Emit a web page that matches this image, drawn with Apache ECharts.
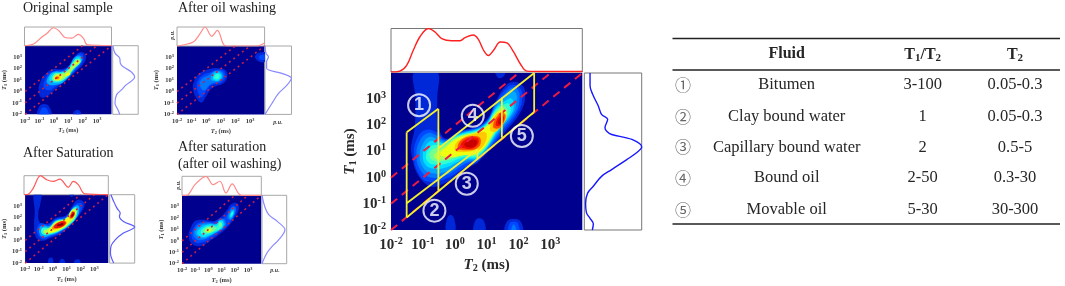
<!DOCTYPE html>
<html><head><meta charset="utf-8">
<style>html,body{margin:0;padding:0;background:#fff}#c{width:1065px;height:286px}#c canvas{filter:blur(.35px)}</style>
<script src="https://cdn.jsdelivr.net/npm/echarts@6/dist/echarts.min.js"></script>
</head><body><div id="c"></div>
<script>
// ---------- table ----------
var fluidMarks = ['①','②','③','④','⑤'];
var fluids = ['Bitumen','Clay bound water','Capillary bound water','Bound oil','Movable oil'];
var ratioT1T2 = ['3-100','1','2','2-50','5-30'];
var rangeT2 = ['0.05-0.3','0.05-0.3','0.5-5','0.3-30','30-300'];
// ---------- shared reading lines ----------
var ratioLines = [100,10,1];
var axisExponentTicks = [-2,-1,0,1,2,3];
// ---------- filled contours: [level, [[log10 T2, log10 T1], ...]] ----------
var contourMain = [
 [1,[[-.88,-.27],[-1.35,.82],[-1.25,2],[-1.23,3],[-1.25,4.1],[-.57,4.1],[-.55,3],[-.53,2.1],[-.3,1.5],[.1,1.75],[.9,2.1],[1.32,3],[1.55,3.45],[1.79,3.66],[2.1,3.54],[2.21,3.19],[2.08,2.55],[1.58,1.75],[.75,.62],[.43,.38],[-.3,-.2]]],
 [1,[[-.25,-2.1],[-.25,-1.6],[-.13,-1.42],[-.01,-1.6],[-.01,-2.1]]],
 [1,[[.62,-2.1],[.62,-1.7],[.77,-1.55],[.93,-1.7],[.93,-2.1]]],
 [1,[[1.6,-2.1],[1.62,-1.7],[1.85,-1.58],[2.08,-1.7],[2.1,-2.1]]],
 [1,[[1.25,4.15],[1.32,3.88],[1.42,3.8],[1.55,3.9],[1.58,4.15]]],
 [2,[[1.7,-2.1],[1.72,-1.75],[1.85,-1.68],[1.98,-1.75],[2,-2.1]]],
 [3,[[1.77,-2.1],[1.85,-1.78],[1.93,-2.1]]],
 [2,[[-1.28,.85],[-1.18,1.5],[-.9,1.83],[-.55,1.72],[-.3,1.46],[.1,1.72],[.9,2.06],[1.32,2.92],[1.57,3.35],[1.8,3.55],[2.02,3.45],[2.12,3.15],[2,2.55],[1.54,1.8],[.75,.65],[.4,.45],[-.3,-.05],[-.85,-.15],[-1.15,.2]]],
 [3,[[-1.2,.85],[-1.1,1.4],[-.85,1.7],[-.55,1.6],[-.3,1.42],[.1,1.69],[.9,2.03],[1.32,2.85],[1.6,3.25],[1.82,3.45],[1.98,3.35],[2.03,3.05],[1.94,2.55],[1.5,1.85],[.75,.7],[.35,.55],[-.3,.08],[-.8,.02],[-1.08,.3]]],
 [4,[[-1.1,.85],[-1,1.3],[-.8,1.55],[-.55,1.48],[-.3,1.38],[.1,1.66],[.9,2],[1.32,2.78],[1.62,3.1],[1.82,3.3],[1.93,3.2],[1.93,2.85],[1.85,2.5],[1.46,1.88],[.75,.75],[.3,.62],[-.3,.22],[-.75,.18],[-1,.4]]],
 [5,[[-1,.85],[-.92,1.2],[-.75,1.4],[-.55,1.36],[-.3,1.34],[.1,1.63],[.9,1.97],[1.32,2.7],[1.6,2.95],[1.78,3.02],[1.85,2.8],[1.78,2.45],[1.42,1.9],[.75,.8],[.28,.7],[-.3,.38],[-.7,.35],[-.92,.5]]],
 [6,[[-.9,.85],[-.82,1.1],[-.68,1.25],[-.5,1.25],[-.3,1.3],[.1,1.6],[.9,1.94],[1.32,2.64],[1.58,2.82],[1.72,2.8],[1.72,2.45],[1.38,1.9],[.75,.85],[.25,.77],[-.3,.52],[-.65,.5],[-.85,.62]]],
 [7,[[-.8,.85],[-.7,1.08],[-.5,1.15],[-.3,1.26],[.1,1.57],[.9,1.91],[1.32,2.58],[1.55,2.72],[1.66,2.45],[1.35,1.88],[.75,.9],[.25,.83],[-.3,.65],[-.65,.65]]],
 [8,[[-.65,.85],[-.5,1.02],[-.3,1.2],[.1,1.54],[.9,1.88],[1.32,2.52],[1.55,2.62],[1.62,2.4],[1.3,1.84],[.75,.94],[.25,.86],[-.25,.72],[-.55,.7]]],
 [9,[[-.45,.88],[-.3,1.13],[.1,1.5],[.9,1.85],[1.32,2.47],[1.55,2.55],[1.6,2.38],[1.22,1.72],[.75,.98],[.2,.85],[-.15,.8]]],
 [10,[[0,1.05],[.12,1.42],[.75,1.72],[1,1.68],[.85,1.15],[.55,1.02],[.2,.98]]],
 [10,[[1.1,1.85],[1.3,2.42],[1.52,2.5],[1.62,2.3],[1.4,1.88],[1.25,1.75]]],
 [12,[[.1,1.12],[.25,1.48],[.7,1.58],[.82,1.4],[.7,1.12],[.4,1.05]]],
 [12,[[1.2,1.95],[1.38,2.42],[1.55,2.45],[1.58,2.25],[1.4,1.9]]],
 [13,[[.18,1.2],[.35,1.47],[.7,1.52],[.75,1.35],[.62,1.15],[.4,1.1]]],
 [13,[[1.28,2.03],[1.42,2.38],[1.53,2.35],[1.52,2.15],[1.38,1.97]]],
 [14,[[.3,1.25],[.45,1.42],[.68,1.42],[.66,1.25],[.48,1.15]]],
 [14,[[1.35,2.1],[1.45,2.3],[1.5,2.25],[1.45,2.05]]]
];
var contourOriginal = [
 [1,[[-1.05,.1],[-.95,.8],[-.6,1.5],[-.1,1.95],[.5,1.95],[1,2.2],[1.4,3],[1.85,3.45],[2.2,3.2],[2.1,2.5],[1.5,1.7],[.8,.9],[.1,.2],[-.5,-.45],[-.9,-.5]]],
 [1,[[-1.1,-2.1],[-1.05,-1.4],[-.7,-1.1],[-.35,-1.3],[-.2,-2.1]]],
 [1,[[1.35,-2.1],[1.45,-1.7],[1.75,-1.65],[1.9,-2.1]]],
 [2,[[-.95,-2.1],[-.9,-1.6],[-.7,-1.4],[-.45,-1.6],[-.4,-2.1]]],
 [2,[[1.55,-2.1],[1.65,-1.85],[1.75,-2.1]]],
 [2,[[-.7,.4],[-.6,1.05],[-.25,1.65],[.25,1.85],[.8,1.95],[1.2,2.4],[1.6,3.15],[1.9,3.3],[2.05,3],[1.9,2.4],[1.4,1.7],[.75,.95],[.1,.4],[-.4,.1]]],
 [4,[[-.45,.7],[-.3,1.45],[.1,1.75],[.6,1.75],[1.05,2.2],[1.45,3],[1.85,3.1],[1.95,2.7],[1.4,1.85],[.85,1.02],[.3,.6]]],
 [5,[[-.3,.95],[-.1,1.55],[.45,1.7],[.9,1.85],[1.4,2.75],[1.75,3],[1.88,2.6],[1.35,1.95],[.8,1.1],[.3,.75]]],
 [7,[[-.1,1],[.05,1.55],[.5,1.6],[.95,1.85],[1.4,2.65],[1.7,2.85],[1.85,2.6],[1.4,2],[.85,1.2],[.4,.9]]],
 [8,[[0,1.05],[.12,1.45],[.5,1.5],[.95,1.72],[1.45,2.55],[1.7,2.75],[1.78,2.55],[1.4,2.1],[.85,1.35],[.4,.98]]],
 [9,[[.02,1.08],[.18,1.42],[.5,1.38],[.52,1.15],[.3,.98]]],
 [9,[[.8,1.42],[1,1.65],[1.15,1.55],[.95,1.35]]],
 [9,[[1.5,2.5],[1.7,2.72],[1.75,2.55],[1.6,2.4]]],
 [10,[[.05,1.12],[.2,1.38],[.45,1.32],[.35,1.05]]],
 [12,[[.1,1.15],[.2,1.3],[.35,1.22],[.22,1.08]]]
];
var contourWashed = [
 [1,[[-.9,.2],[-.8,1],[-.4,1.65],[.3,2],[.8,2.05],[1.3,1.9],[1.45,1.35],[1.2,.75],[.4,.3],[0,-.4],[-.3,-.95],[-.6,-.7]]],
 [1,[[3.35,3],[3.5,3.35],[3.8,3.45],[4.1,3.4],[4.1,2.7],[3.7,2.6]]],
 [2,[[3.6,3],[3.75,3.2],[4.1,3.2],[4.1,2.85],[3.75,2.8]]],
 [2,[[-.65,.4],[-.55,1],[-.2,1.45],[.3,1.7],[.7,1.9],[1.15,1.85],[1.3,1.35],[1.05,.82],[.35,.55],[-.1,-.1],[-.3,-.5],[-.5,-.2]]],
 [3,[[-.45,.6],[-.3,1.1],[.2,1.45],[.55,1.78],[1,1.8],[1.2,1.35],[.95,.9],[.3,.65],[-.15,.1]]],
 [4,[[.3,1.1],[.5,1.68],[.9,1.75],[1.12,1.35],[.9,.95],[.5,.92]]],
 [5,[[.45,1.2],[.6,1.6],[.88,1.65],[1.05,1.35],[.85,1],[.58,1]]],
 [6,[[.55,1.25],[.72,1.52],[.9,1.45],[.88,1.2],[.7,1.08]]]
];
var contourSaturated = [
 [1,[[-1.35,4.15],[-.85,4.15],[-.9,3.2],[-1.05,2.3],[-.9,1.55],[-.3,1.5],[.2,1.95],[1,2.25],[1.4,3],[1.7,3.5],[2.1,3.5],[2.3,3.1],[1.95,2.3],[1.45,1.55],[.6,.6],[-.2,.2],[-.7,-.05],[-1.1,.1],[-1.3,.6],[-1.35,1.5],[-1.3,2.5]]],
 [1,[[-.3,-2.1],[-.3,-1.6],[-.1,-1.5],[0,-1.6],[0,-2.1]]],
 [1,[[.5,-2.1],[.55,-1.7],[.75,-1.65],[.9,-2.1]]],
 [1,[[1.55,-2.1],[1.6,-1.75],[1.9,-1.7],[2,-2.1]]],
 [1,[[1.2,4.15],[1.35,3.8],[1.55,4.15]]],
 [2,[[-1.15,.7],[-1.05,1.3],[-.8,1.5],[-.3,1.4],[.2,1.85],[1,2.15],[1.5,3],[1.9,3.3],[2.15,3.1],[1.9,2.35],[1.35,1.55],[.6,.7],[-.2,.3],[-.75,.1]]],
 [4,[[-1,.8],[-.9,1.2],[-.65,1.32],[-.25,1.25],[.2,1.75],[1,2.05],[1.5,2.9],[1.85,3.05],[1.9,2.6],[1.75,2.05],[1.25,1.35],[.55,.8],[-.2,.42],[-.75,.28]]],
 [6,[[-.85,.8],[-.7,1.1],[-.2,1.15],[.2,1.67],[1,1.97],[1.45,2.8],[1.75,2.85],[1.68,2.05],[1.2,1.38],[.6,.88],[-.2,.52],[-.65,.48]]],
 [8,[[-.7,.8],[-.3,1.05],[.2,1.6],[.9,1.88],[1.4,2.7],[1.7,2.7],[1.6,2.05],[1.15,1.42],[.6,.95],[-.2,.6],[-.55,.6]]],
 [9,[[-.35,.8],[-.05,1.15],[.25,1.55],[.9,1.8],[1.15,2.1],[1.4,2.6],[1.62,2.55],[1.55,2.1],[1.1,1.5],[.6,1.02],[-.15,.68]]],
 [11,[[-.05,1],[.2,1.45],[.85,1.72],[1,1.5],[.55,1.08]]],
 [11,[[1.2,1.9],[1.38,2.5],[1.6,2.45],[1.45,1.95]]],
 [13,[[.08,1.12],[.3,1.5],[.85,1.66],[.92,1.45],[.55,1.12]]],
 [13,[[1.25,2],[1.42,2.45],[1.58,2.4],[1.42,2]]],
 [15,[[.3,1.28],[.5,1.48],[.75,1.5],[.7,1.32]]],
 [15,[[1.33,2.12],[1.45,2.38],[1.52,2.3],[1.42,2.08]]]
];
var contourRewet = [
 [1,[[-1.5,.4],[-1.35,1.1],[-1,1.75],[-.3,1.85],[.4,1.75],[.9,2.05],[1.4,2.7],[1.7,3.2],[2.15,3.3],[2.3,2.8],[1.9,1.9],[1.45,1.2],[.8,.55],[.1,0],[-.6,-.45],[-1.2,-.3]]],
 [2,[[-1.3,.5],[-1.15,1.05],[-.8,1.55],[-.2,1.68],[.45,1.65],[.85,1.98],[1.1,1.95],[1.5,2.5],[1.75,3],[2,3.05],[2.1,2.7],[1.85,2],[1.4,1.3],[.75,.68],[.1,.15],[-.55,-.15],[-1,-.12]]],
 [3,[[-1.15,.6],[-.9,1.3],[-.4,1.58],[.2,1.6],[.65,1.55],[.9,1.92],[1.2,1.9],[1.3,1.3],[.75,.8],[.1,.35],[-.5,.08],[-.9,.15]]],
 [3,[[1.45,2],[1.55,2.5],[1.8,2.95],[2.02,2.9],[2,2.4],[1.7,1.85]]],
 [4,[[-1,.65],[-.72,1.25],[0,1.5],[.6,1.5],[.87,1.85],[1.15,1.8],[1.18,1.25],[.68,.88],[.1,.45],[-.5,.22]]],
 [4,[[1.55,2.1],[1.65,2.5],[1.85,2.8],[1.95,2.6],[1.9,2.3],[1.7,1.95]]],
 [5,[[-.85,.7],[-.5,1.2],[.1,1.45],[.6,1.45],[.85,1.8],[1.12,1.65],[1.05,1.15],[.55,.75],[.05,.48],[-.5,.35]]],
 [5,[[1.62,2.15],[1.72,2.5],[1.88,2.65],[1.9,2.4],[1.75,2.1]]],
 [6,[[-.6,.8],[-.25,1.22],[.3,1.32],[.65,1.3],[.85,1.68],[1.05,1.5],[.9,1.08],[.45,.82],[-.05,.6],[-.4,.55]]],
 [6,[[1.7,2.25],[1.78,2.5],[1.86,2.5],[1.78,2.25]]],
 [7,[[-.4,.85],[-.1,1.17],[.3,1.2],[.6,1.15],[.45,.88],[0,.7]]],
 [7,[[.8,1.35],[.88,1.62],[1,1.48],[.92,1.22]]],
 [8,[[-.25,.9],[0,1.1],[.3,1.05],[.2,.82],[-.05,.74]]],
 [9,[[-.05,.92],[.05,1.03],[.15,.95],[.05,.85]]]
];
// ---------- marginal curves ----------
var mainTopT2 = [0.01,0.019,0.031,0.05,0.081,0.148,0.24,0.39,0.8,1.47,2.1,3.8,5.5,8,11.4,16.5,26.8,43,70,113,183,700,10000];
var mainTopVal = [0,0.02,0.15,0.5,0.81,1,0.92,0.77,0.72,0.72,0.79,0.85,0.75,0.5,0.38,0.5,0.69,0.67,0.46,0.19,0.02,0.01,0.01];
var mainRightT1 = [0.01,0.017,0.028,0.044,0.107,0.257,0.47,1.12,2.04,4.9,8.9,14.8,28.8,44.7,60,81,170,263,550,1350,3240,10000];
var mainRightVal = [0.14,0.157,0.1,0.04,0.023,0.058,0.157,0.3,0.477,0.74,0.91,1,0.83,0.477,0.39,0.36,0.407,0.3,0.244,0.157,0.1,0.1];
var origTopT2 = [0.01,0.042,0.158,0.35,1,2.2,6.3,18,52,117,219,10000];
var origTopVal = [0,0.09,0.47,0.65,0.96,0.82,0.44,0.4,0.61,0.39,0.04,0];
var origRightT1 = [0.01,0.024,0.091,0.5,1.35,3.7,18,55,150,295,810,2240,10000];
var origRightVal = [0.275,0.21,0.09,0.15,0.34,0.525,0.86,0.71,0.4,0.3,0.275,0.09,0];
var washTopT2 = [0.01,0.021,0.13,0.38,0.83,2.4,5.8,15,25,2900,10000];
var washTopVal = [0,0.04,0.21,0.65,1,0.51,0.82,0.09,0,0,0.16];
var washRightT1 = [0.01,0.09,0.69,3.7,14.5,40,110,420,1150,2240,10000];
var washRightVal = [0,0.26,0.51,0.83,1,0.64,0.06,0.06,0.13,0.04,0];
var satTopT2 = [0.01,0.02,0.046,0.15,0.41,1.2,3.6,14,32,73,220,10000];
var satTopVal = [0,0.02,0.35,1,0.79,0.7,0.82,0.39,0.7,0.53,0.04,0];
var satRightT1 = [0.01,0.076,0.29,1.1,4.3,14.5,45,123,245,660,2570,10000];
var satRightVal = [0.16,0.03,0.05,0.22,0.55,1,0.55,0.39,0.42,0.29,0.16,0.05];
var rewetTopT2 = [0.01,0.022,0.095,0.65,2.3,7.4,21,63,180,325,10000];
var rewetTopVal = [0,0,0.56,1,0.56,0.74,0.12,0.6,0.12,0,0];
var rewetRightT1 = [0.01,0.087,0.33,1.27,9.5,51,200,1070,10000];
var rewetRightVal = [0,0.2,0.41,0.68,0.93,0.62,0.27,0.11,0];
// ---------- region outlines on the main panel [[T2,T1],[T2,T1]] ----------
var regionEdges = [
 [[0.031,0.03],[309,324]],
 [[0.031,54],[0.306,427]],
 [[0.031,0.03],[0.031,54]],
 [[0.306,0.32],[0.306,427]],
 [[0.031,0.106],[5.15,12]],
 [[5.15,5.2],[5.15,12]],
 [[0.306,13],[309,10000]],
 [[30,33.6],[30,1150]],
 [[309,324],[309,10000]]
];
var regionMarks = [[0.076,590,'1'],[0.23,0.055,'2'],[2.38,0.59,'3'],[3.67,230,'4'],[127,39,'5']];

var SERIF = '"Liberation Serif","Times New Roman",serif';
var JET = ['#00008f','#0028d8','#0048ff','#0078ff','#00a8ff','#00e0ff','#30ffd0','#70ff90','#b0ff50','#f0ff10','#ffc800','#ff9000','#ff5000','#f01000','#c80000','#800000'];
var grids=[],xAxes=[],yAxes=[],series=[];
function pairs(a,b){return a.map(function(v,i){return [v,b[i]];});}
function expRich(f,color){return {
  b:{fontFamily:SERIF,fontWeight:'bold',fontSize:f,color:color},
  s:{fontFamily:SERIF,fontWeight:'bold',fontSize:f*0.68,color:color,padding:[0,0,f*0.5,0]}};}
function nameRich(f,color){return {
  i:{fontFamily:SERIF,fontWeight:'bold',fontStyle:'italic',fontSize:f,color:color},
  b:{fontFamily:SERIF,fontWeight:'bold',fontSize:f,color:color},
  u:{fontFamily:SERIF,fontWeight:'bold',fontSize:f*0.68,color:color,padding:[f*0.45,0,0,0]}};}
function tickFmt(v){var e=Math.round(Math.log10(v));return axisExponentTicks.indexOf(e)<0?'':'{b|10}{s|'+e+'}';}
function logAxis(g,name,st,extra){
  var a={gridIndex:g,type:'log',logBase:10,min:0.01,max:10000,
    axisLine:{show:false},axisTick:{show:false},minorTick:{show:false},splitLine:{show:false},minorSplitLine:{show:false},
    axisLabel:{show:true,formatter:tickFmt,rich:expRich(st.tick,st.textColor),margin:st.margin,showMinLabel:true,showMaxLabel:true,hideOverlap:false,interval:0},
    name:name,nameLocation:'middle',nameGap:st.nameGap,nameTextStyle:{rich:nameRich(st.nameSize,st.textColor)}};
  for(var k in extra)a[k]=extra[k];
  return a;
}
function addLine(xi,yi,data,style,smooth,z){
  series.push({type:'line',xAxisIndex:xi,yAxisIndex:yi,data:data,showSymbol:false,symbol:'none',smooth:smooth||false,
    lineStyle:style,silent:true,z:z||3,clip:true,animation:false});
}
function addContours(xi,yi,contours){
  series.push({type:'custom',xAxisIndex:xi,yAxisIndex:yi,silent:true,z:2,clip:true,animation:false,
    encode:{x:0,y:1},
    data:contours.map(function(c,i){return [c[1][0][0],c[1][0][1],i];}),
    renderItem:function(params,api){
      var c=contours[params.dataIndex];
      return {type:'polygon',shape:{points:c[1].map(function(p){return api.coord(p);}),smooth:0.45},style:{fill:JET[c[0]],stroke:null}};
    }});
}
function addPanel(p){
  var st=p.st, g=grids.length;
  grids.push({left:p.heat[0],top:p.heat[1],width:p.heat[2],height:p.heat[3],show:true,backgroundColor:JET[0],borderColor:st.frame,borderWidth:0,containLabel:false});
  var xc=xAxes.length,yc=yAxes.length;
  xAxes.push({gridIndex:g,type:'value',min:-2,max:4,show:false});
  yAxes.push({gridIndex:g,type:'value',min:-2,max:4,show:false});
  xAxes.push(logAxis(g,'{i|T}{u|2}{b| (ms)}',st,{position:'bottom'}));
  yAxes.push(logAxis(g,'{i|T}{u|1}{b| (ms)}',Object.assign({},st,{nameGap:st.nameGapY,margin:st.marginY}),{position:'left',nameRotate:90}));
  addContours(xc,yc,p.contours);
  ratioLines.forEach(function(k){
    addLine(xc+1,yc+1,[[0.01,0.01*k],[10000/k,10000]],{color:st.dashColor,width:st.dashW,type:st.dash});
  });
  var gt=grids.length;
  grids.push({left:p.top[0],top:p.top[1],width:p.top[2],height:p.top[3],show:true,borderColor:st.frame,borderWidth:1,backgroundColor:'#fff',containLabel:false});
  var xt=xAxes.length,yt=yAxes.length;
  xAxes.push({gridIndex:gt,type:'log',logBase:10,min:0.01,max:10000,axisLine:{show:false},axisTick:{show:false},axisLabel:{show:false},splitLine:{show:false},minorSplitLine:{show:false}});
  yAxes.push({gridIndex:gt,type:'value',min:0,max:1,axisLine:{show:false},axisTick:{show:false},axisLabel:{show:false},splitLine:{show:false}});
  addLine(xt,yt,pairs(p.topT2,p.topVal),{color:st.red,width:st.curveW},0.35);
  var gr=grids.length;
  grids.push({left:p.right[0],top:p.right[1],width:p.right[2],height:p.right[3],show:true,borderColor:st.frame,borderWidth:1,backgroundColor:'#fff',containLabel:false});
  var xr=xAxes.length,yr=yAxes.length;
  xAxes.push({gridIndex:gr,type:'value',min:0,max:1,axisLine:{show:false},axisTick:{show:false},axisLabel:{show:false},splitLine:{show:false}});
  yAxes.push({gridIndex:gr,type:'log',logBase:10,min:0.01,max:10000,axisLine:{show:false},axisTick:{show:false},axisLabel:{show:false},splitLine:{show:false},minorSplitLine:{show:false}});
  addLine(xr,yr,pairs(p.rightVal,p.rightT1),{color:st.blue,width:st.curveW},0.35);
  return {x:xc+1,y:yc+1};
}
var smallStyle={frame:'#a8a8a8',tick:6.5,textColor:'#3a3a3a',margin:3,marginY:3,nameGap:13,nameGapY:16,nameSize:6.5,
  dashColor:'#c4204a',dashW:1.6,dash:[2,3.5],red:'#ff8a8a',blue:'#8a8aff',curveW:1.2};
var smallStyleStrong=Object.assign({},smallStyle,{red:'#ff5a5a',blue:'#5a5aff'});
var mainStyle={frame:'#777',tick:15,textColor:'#2a2a2a',margin:6,marginY:5,nameGap:25,nameGapY:30,nameSize:15,
  dashColor:'#ee1c40',dashW:2,dash:[8,6],red:'#ff2020',blue:'#1818ff',curveW:1.4};

addPanel({st:smallStyle,heat:[24.5,45.7,87,68.6],top:[24.5,27,87,18.7],right:[112.7,45.7,25.5,68.6],contours:contourOriginal,topT2:origTopT2,topVal:origTopVal,rightT1:origRightT1,rightVal:origRightVal});
addPanel({st:smallStyle,heat:[177,46,87.6,68.4],top:[177,27,87.6,19],right:[265,46,26.5,68.4],contours:contourWashed,topT2:washTopT2,topVal:washTopVal,rightT1:washRightT1,rightVal:washRightVal});
addPanel({st:smallStyleStrong,heat:[24,194.7,84.3,68.4],top:[24,175.7,84.3,19],right:[109.7,194.7,25,68.4],contours:contourSaturated,topT2:satTopT2,topVal:satTopVal,rightT1:satRightT1,rightVal:satRightVal});
addPanel({st:smallStyle,heat:[182,195.3,79.3,68.4],top:[182,176.3,79.3,19],right:[262,195.3,24.7,68.4],contours:contourRewet,topT2:rewetTopT2,topVal:rewetTopVal,rightT1:rewetRightT1,rightVal:rewetRightVal});
var m=addPanel({st:mainStyle,heat:[391,73,191.3,157],top:[391,28.5,191.3,43.5],right:[584.3,73,57.4,157],contours:contourMain,topT2:mainTopT2,topVal:mainTopVal,rightT1:mainRightT1,rightVal:mainRightVal});

regionEdges.forEach(function(e){addLine(m.x,m.y,e,{color:'#f4f02c',width:1.8},false,4);});
series.push({type:'scatter',xAxisIndex:m.x,yAxisIndex:m.y,data:regionMarks,symbol:'circle',symbolSize:22,silent:true,z:5,animation:false,
  itemStyle:{color:'rgba(0,0,0,0)',borderColor:'#fff',borderWidth:2},
  label:{show:true,position:'inside',formatter:function(d){return d.value[2];},color:'#fff',fontFamily:'"Liberation Sans",Arial,sans-serif',fontWeight:'bold',fontSize:18}});

function title(t,x,y){return {text:t,left:x,top:y,padding:0,textStyle:{fontFamily:SERIF,fontWeight:'normal',fontSize:14,color:'#222',lineHeight:17}};}
var titles=[title('Original sample',23,0),title('After oil washing',178,0),title('After Saturation',23,145),title('After saturation\n(after oil washing)',178,139)];

var gfx=[];
function txt(t,x,y,o){var s=Object.assign({text:t,x:x,y:y,align:'center',verticalAlign:'middle',fontFamily:SERIF,fontSize:16.5,fill:'#262626'},o||{});
  gfx.push({type:'text',silent:true,z:20,style:s});}
function hline(y,w){gfx.push({type:'line',silent:true,z:20,shape:{x1:672.5,y1:y,x2:1060,y2:y},style:{stroke:'#222',lineWidth:w}});}
hline(38.5,1.6);hline(70,1.4);hline(224,1.6);
var headRich={b:{fontFamily:SERIF,fontWeight:'bold',fontSize:16,color:'#222'},
  s:{fontFamily:SERIF,fontWeight:'bold',fontSize:11,color:'#222',padding:[6,0,0,0]}};
txt('Fluid',786.7,54,{fontWeight:'bold',fontSize:16});
txt('{b|T}{s|1}{b|/T}{s|2}',922.7,55,{rich:headRich});
txt('{b|T}{s|2}',1015,55,{rich:headRich});
var rowY=[85,116.7,147.3,177.7,210];
fluids.forEach(function(f,i){
  txt(fluidMarks[i],683,rowY[i],{fontFamily:'"Noto Sans CJK SC","DejaVu Sans",sans-serif',fontSize:16,fill:'#666'});
  txt(f,786.7,rowY[i]);
  txt(ratioT1T2[i],922.7,rowY[i]);
  txt(rangeT2[i],1015,rowY[i]);
});
function pu(x,y,rot){gfx.push({type:'text',silent:true,z:20,x:x,y:y,rotation:rot,style:{text:'p.u.',align:'center',verticalAlign:'middle',fontFamily:SERIF,fontStyle:'italic',fontWeight:'bold',fontSize:6,fill:'#444'}});}
pu(172,35,Math.PI/2);pu(278,122,0);pu(178,185,Math.PI/2);pu(275,270,0);

var chart=echarts.init(document.getElementById('c'),null,{renderer:'canvas'});
chart.setOption({animation:false,backgroundColor:'#fff',title:titles,grid:grids,xAxis:xAxes,yAxis:yAxes,series:series,graphic:gfx});
</script></body></html>
